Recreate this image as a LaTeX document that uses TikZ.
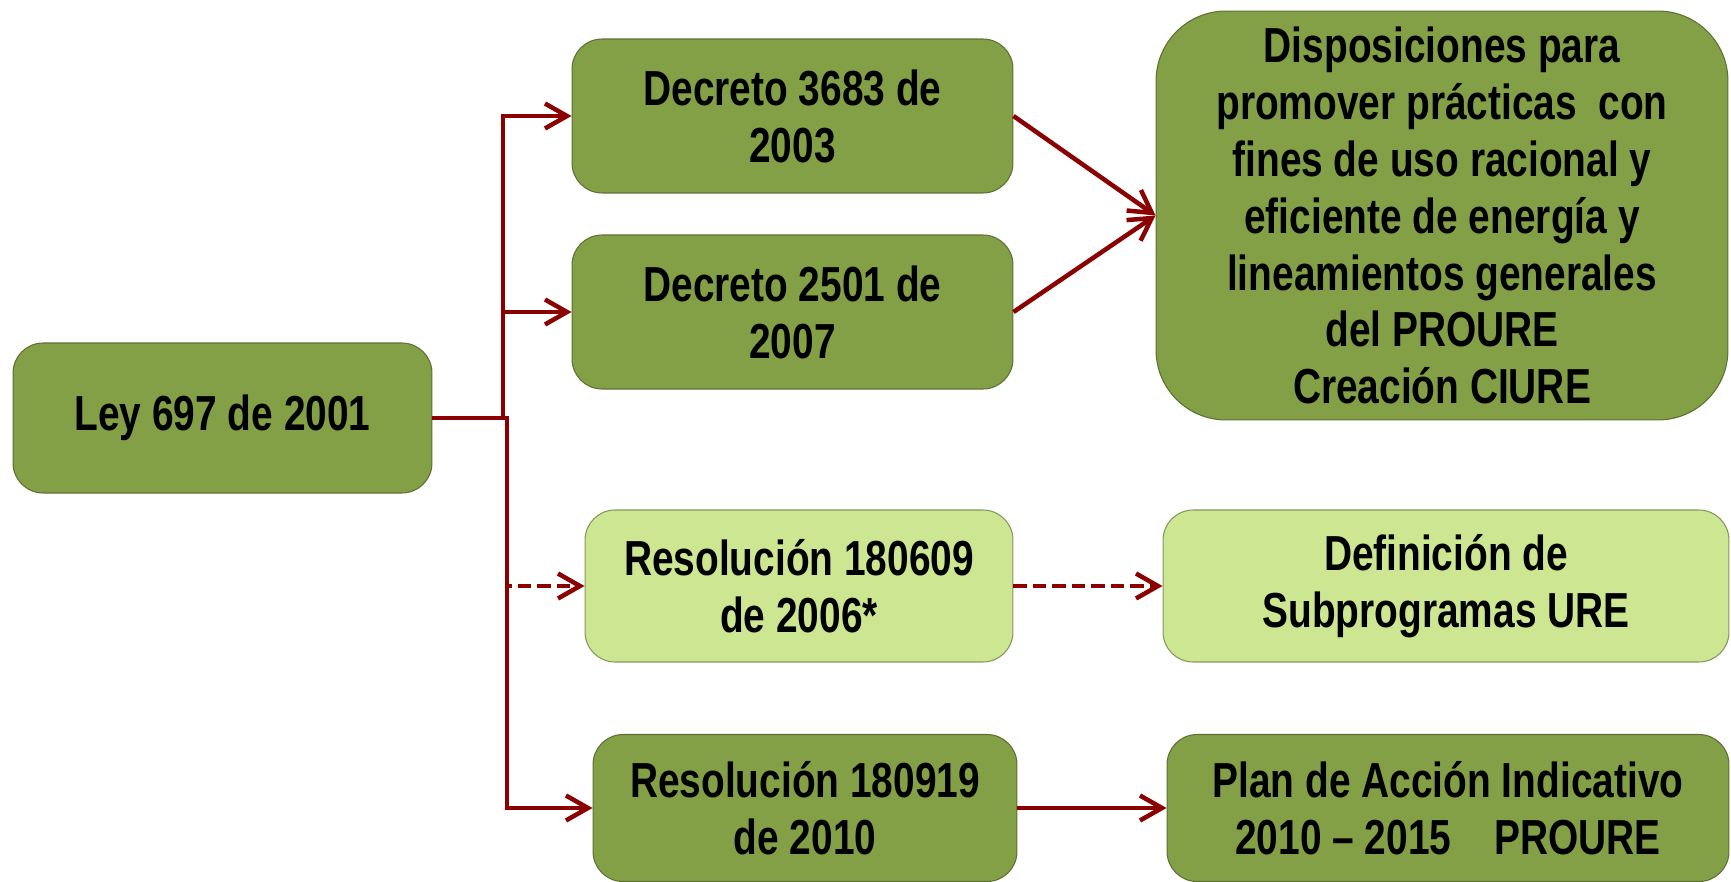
\documentclass[tikz,border=0pt]{standalone}
\usepackage{fontspec}
\newfontfamily\narrowbold{Liberation Sans}[FakeStretch=0.79, Ligatures=TeX]
\usetikzlibrary{arrows.meta}
\definecolor{leafgreen}{RGB}{131,160,70}
\definecolor{palegreen}{RGB}{205,230,145}
\definecolor{wine}{RGB}{139,0,0}

\begin{document}
\begin{tikzpicture}[x=0.02cm, y=-0.02cm,
        box/.style={draw=leafgreen!70!black, line width=0.6pt, fill=leafgreen,
            rounded corners=0.6cm, align=center, inner sep=0pt,
            font=\narrowbold\bfseries\fontsize{28}{32.4}\selectfont},
        lightbox/.style={box, fill=palegreen, draw=palegreen!65!black},
        link/.style={wine, line width=0.09cm,
            -{Straight Barb[length=0.44cm, width=0.5cm]}},
        dashlink/.style={link, dash pattern=on 0.27cm off 0.12cm}]
    \useasboundingbox (0,0) rectangle (1731,882);

    % source law
    \node[box, minimum width=8.38cm, minimum height=3cm] (ley) at (222.5,418) {Ley 697 de 2001};

    % decrees
    \node[box, minimum width=8.82cm, minimum height=3.08cm] (dec3683) at (792.5,116) {Decreto 3683 de\\2003};
    \node[box, minimum width=8.82cm, minimum height=3.08cm] (dec2501) at (792.5,312) {Decreto 2501 de\\2007};
    \node[box, rounded corners=1.4cm, minimum width=11.44cm, minimum height=8.18cm] (dispo) at (1442,215.5)
        {Disposiciones para\\promover prácticas~ con\\fines de uso racional y\\eficiente de energía y\\lineamientos generales\\del PROURE\\Creación CIURE};

    % resolutions
    \node[lightbox, minimum width=8.56cm, minimum height=3.04cm] (res609) at (799,586) {Resolución 180609\\de 2006*};
    \node[lightbox, minimum width=11.32cm, minimum height=3.04cm] (subprog) at (1446,586) {Definición de\\Subprogramas URE};
    \node[box, minimum width=8.48cm, minimum height=2.94cm] (res919) at (805,808) {Resolución 180919\\de 2010};
    \node[box, minimum width=11.24cm, minimum height=2.94cm] (plan) at (1448,808) {Plan de Acción Indicativo\\2010 – 2015~~~~PROURE};

    % branching trunk
    \coordinate (trunk) at (503,418);
    \coordinate (trunklow) at (507,418);
    \draw[link] (ley.east) -- (trunk) |- (dec3683.west);
    \draw[link] (trunk) |- (dec2501.west);
    \draw[dashlink] (ley.east) -- (trunklow) |- (res609.west);
    \draw[link] (ley.east) -- (trunklow) |- (res919.west);

    % second level
    \draw[link] (dec3683.east) -- (dispo.west);
    \draw[link] (dec2501.east) -- (dispo.west);
    \draw[dashlink] (res609.east) -- (subprog.west);
    \draw[link] (res919.east) -- (plan.west);
\end{tikzpicture}
\end{document}
